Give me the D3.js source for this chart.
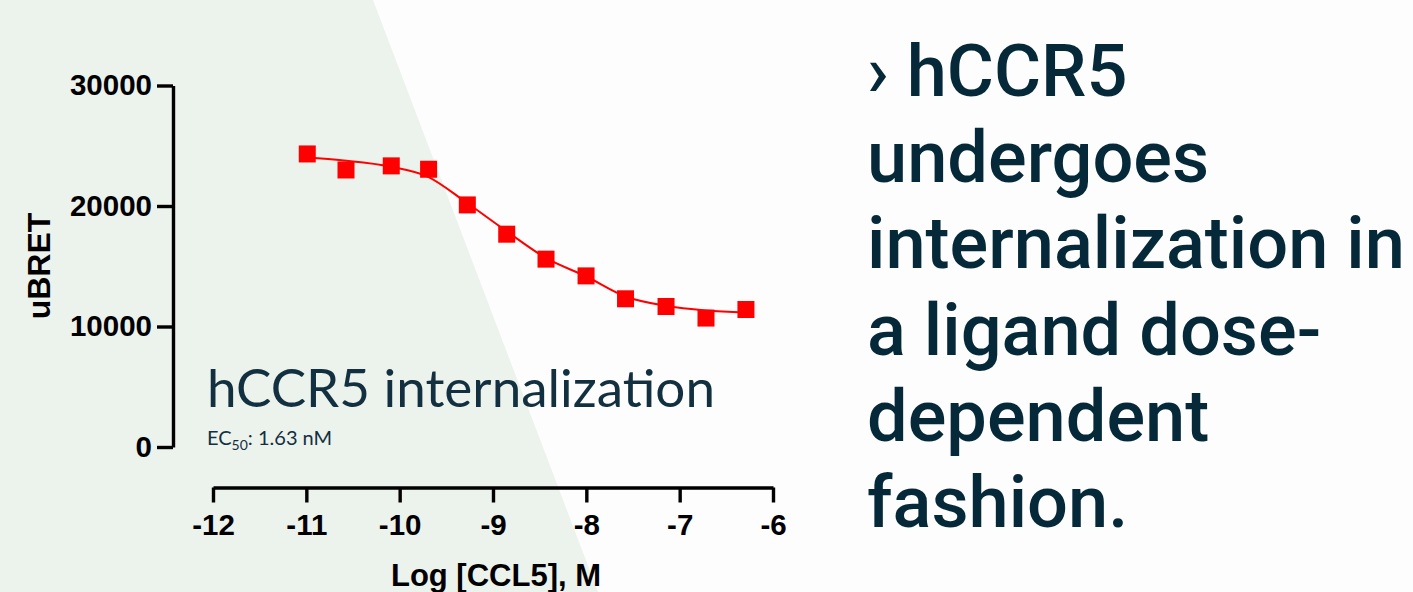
<!DOCTYPE html>
<html>
<head>
<meta charset="utf-8">
<script src="https://cdn.jsdelivr.net/npm/d3@7"></script>
<style>
  html, body { margin: 0; padding: 0; background: #fdfdfd; }
  svg { display: block; }
</style>
</head>
<body>
<div id="chart"></div>
<script>
// measured points, log [CCL5] (M) vs uBRET
const logConc = [-10.99, -10.575, -10.09, -9.69, -9.275, -8.853, -8.432, -8.003, -7.58, -7.146, -6.718, -6.29];
const ubret = [24320, 22990, 23330, 23050, 20090, 17660, 15590, 14200, 12300, 11660, 10700, 11410];

// fitted curve
const fitX = [-11, -10.6, -10.1, -9.7, -9.3, -8.85, -8.43, -8.0, -7.58, -7.15, -6.72, -6.29];
const fitY = [24020, 23770, 23270, 22440, 20370, 17880, 15670, 14150, 12490, 11720, 11330, 11160];

const xTicks = [-12, -11, -10, -9, -8, -7, -6];
const yTicks = [0, 10000, 20000, 30000];

const xTitle = "Log [CCL5], M";
const yTitle = "uBRET";
const plotTitle = "hCCR5 internalization";
const ecLabel = ["EC", "50", ": 1.63 nM"];
const sideText = ["\u203A hCCR5", "undergoes", "internalization in", "a ligand dose-", "dependent", "fashion."];

const W = 1413, H = 592;
const ink = "#06293a";

const svg = d3.select("#chart").append("svg")
  .attr("width", W)
  .attr("height", H);

// background panel
svg.append("polygon")
  .attr("points", `0,0 373,0 598,${H} 0,${H}`)
  .attr("fill", "#ecf2ec");

const x = d3.scaleLinear().domain([-12, -6]).range([213, 773]);
const y = d3.scaleLinear().domain([0, 30000]).range([447, 85.5]);

const axisFont = "'Liberation Sans', Arial, sans-serif";

// y axis
const yAxis = svg.append("g")
  .attr("transform", "translate(173,0)")
  .call(d3.axisLeft(y).tickValues(yTicks).tickSize(16).tickSizeOuter(0).tickPadding(5).tickFormat(d => String(d)));

// x axis
const xAxis = svg.append("g")
  .attr("transform", "translate(0,487.5)")
  .call(d3.axisBottom(x).tickValues(xTicks).tickSize(15).tickSizeOuter(0).tickPadding(12).tickFormat(d => String(d)));

[yAxis, xAxis].forEach(ax => {
  ax.select(".domain").attr("stroke", "#000").attr("stroke-width", 3.4);
  ax.selectAll(".tick line").attr("stroke", "#000").attr("stroke-width", 3.4);
  ax.selectAll(".tick text")
    .attr("fill", "#000")
    .style("font-family", axisFont)
    .style("font-weight", "bold")
    .style("font-size", "29.5px");
});

// axis titles
svg.append("text")
  .attr("x", 496).attr("y", 586)
  .attr("text-anchor", "middle")
  .style("font-family", axisFont).style("font-weight", "bold").style("font-size", "31px")
  .text(xTitle);

svg.append("text")
  .attr("transform", "translate(50,266) rotate(-90)")
  .attr("text-anchor", "middle")
  .style("font-family", axisFont).style("font-weight", "bold").style("font-size", "32px")
  .text(yTitle);

// fitted curve
const line = d3.line()
  .x((d, i) => x(fitX[i]))
  .y(d => y(d))
  .curve(d3.curveMonotoneX);

svg.append("path")
  .datum(fitY)
  .attr("d", line)
  .attr("fill", "none")
  .attr("stroke", "#ff0000")
  .attr("stroke-width", 2);

// data markers
const sq = 17;
svg.selectAll("rect.pt")
  .data(ubret)
  .enter()
  .append("rect")
  .attr("class", "pt")
  .attr("x", (d, i) => x(logConc[i]) - sq / 2)
  .attr("y", d => y(d) - sq / 2)
  .attr("width", sq)
  .attr("height", sq)
  .attr("fill", "#ff0000");

// in-plot title
svg.append("text")
  .attr("x", 207).attr("y", 407)
  .attr("fill", "#12303f")
  .style("font-family", "Lato, 'Open Sans', sans-serif")
  .style("font-size", "52px")
  .attr("textLength", 508)
  .attr("lengthAdjust", "spacingAndGlyphs")
  .text(plotTitle);

const ec = svg.append("text")
  .attr("x", 207).attr("y", 445)
  .attr("fill", "#12303f")
  .style("font-family", "Lato, 'Open Sans', sans-serif")
  .style("font-size", "20px");
ec.append("tspan").text(ecLabel[0]);
ec.append("tspan").attr("dy", 5).style("font-size", "14px").text(ecLabel[1]);
ec.append("tspan").attr("dy", -5).text(ecLabel[2]);

// side text block
const side = svg.append("g").attr("transform", "translate(867,0)");
const sideLines = side.selectAll("text")
  .data(sideText)
  .enter()
  .append("text")
  .attr("x", 0)
  .attr("y", (d, i) => 96 + i * 86.2)
  .attr("fill", ink)
  .style("font-family", "Roboto, 'DejaVu Sans', sans-serif")
  .style("font-weight", 500)
  .style("font-size", "72px")
  .text(d => d);

// squeeze to the narrow look of the original
const widest = d3.max(sideLines.nodes(), n => n.getComputedTextLength());
const sx = 538 / widest;
sideLines.attr("transform", `scale(${sx},1)`);
</script>
</body>
</html>
